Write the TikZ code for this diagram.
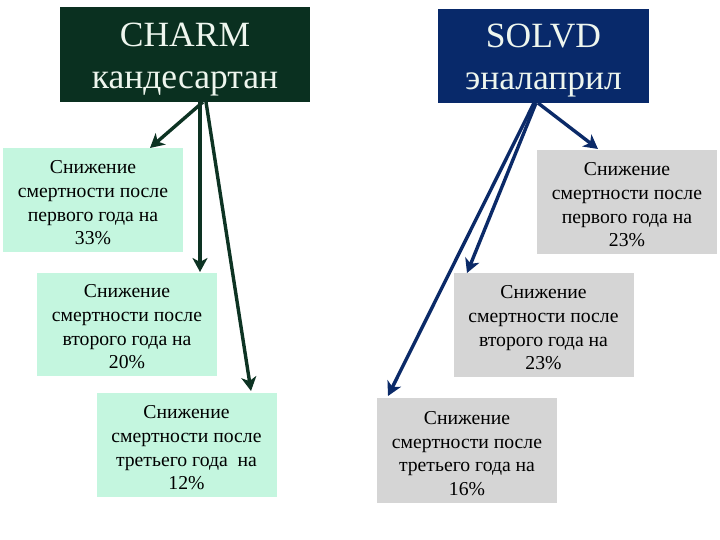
\documentclass[tikz,border=0pt]{standalone}
\usepackage{fontspec}
\setmainfont{Liberation Serif}
\usetikzlibrary{arrows.meta}
\definecolor{charmfill}{HTML}{0A3020}
\definecolor{solvdfill}{HTML}{08296A}
\definecolor{titletext}{HTML}{EEF6EE}
\definecolor{mint}{HTML}{C4F6DF}
\definecolor{greybox}{HTML}{D5D5D5}
\definecolor{greenarrow}{HTML}{0D3323}
\definecolor{bluearrow}{HTML}{0B2A68}
\tikzset{
  titlebox/.style={rectangle, inner sep=0pt},
  titletxt/.style={inner sep=0pt, align=center, text=titletext,
    font=\fontsize{35.5}{42}\selectfont},
  resbox/.style={rectangle, inner sep=0pt, minimum width=180pt, minimum height=103pt},
  restxt/.style={inner sep=0pt, align=center, text=black,
    font=\fontsize{19.7}{23.7}\selectfont},
  mintbox/.style={resbox, fill=mint},
  greyresbox/.style={resbox, fill=greybox},
  arrowline/.style={line width=3.4pt, -{Stealth[length=14pt,width=15pt,inset=4pt]}},
  garrow/.style={arrowline, draw=greenarrow},
  barrow/.style={arrowline, draw=bluearrow},
}
\begin{document}
\begin{tikzpicture}[x=1pt,y=-1pt]
\useasboundingbox[fill=white] (0,0) rectangle (720,540);
% title boxes
\node[titlebox, fill=charmfill, minimum width=250pt, minimum height=95pt] (charm) at (185,54.5) {};
\node[titletxt] (charmtxt) at ([yshift=-5pt]charm.center) {CHARM\\кандесартан};
\node[titlebox, fill=solvdfill, minimum width=211pt, minimum height=94pt] (solvd) at (543.5,56) {};
\node[titletxt] (solvdtxt) at ([yshift=-5pt]solvd.center) {SOLVD\\эналаприл};
% left boxes
\node[mintbox] (l1) at (93,200) {};
\node[restxt] at ([yshift=-3pt]l1.center) {Снижение\\смертности после\\первого года на\\33\%};
\node[mintbox] (l2) at (127,324) {};
\node[restxt] at ([yshift=-3pt]l2.center) {Снижение\\смертности после\\второго года на\\20\%};
\node[mintbox, minimum height=104pt] (l3) at (186.5,445) {};
\node[restxt] at ([yshift=-3pt]l3.center) {Снижение\\смертности после\\третьего года\ \ на\\12\%};
% right boxes
\node[greyresbox, minimum height=104pt] (r1) at (627,202) {};
\node[restxt] at ([yshift=-3pt]r1.center) {Снижение\\смертности после\\первого года на\\23\%};
\node[greyresbox, minimum height=104pt] (r2) at (543.5,325) {};
\node[restxt] at ([yshift=-3pt]r2.center) {Снижение\\смертности после\\второго года на\\23\%};
\node[greyresbox, minimum height=105pt] (r3) at (467,450.5) {};
\node[restxt] at ([yshift=-3pt]r3.center) {Снижение\\смертности после\\третьего года на\\16\%};
% connector end points
\coordinate (cs1) at (203,102);
\coordinate (cs2) at (200,102);
\coordinate (cs3) at (206,102);
\coordinate (ce1) at (150,148);
\coordinate (ce2) at (200,272);
\coordinate (ce3) at (251,391);
\coordinate (ss1) at (538,103);
\coordinate (ss2) at (536,103);
\coordinate (ss3) at (534,103);
\coordinate (se1) at (598,149);
\coordinate (se2) at (467,273);
\coordinate (se3) at (388,396);
\draw[garrow] (cs1) -- (ce1);
\draw[garrow] (cs2) -- (ce2);
\draw[garrow] (cs3) -- (ce3);
\draw[barrow] (ss1) -- (se1);
\draw[barrow] (ss2) -- (se2);
\draw[barrow] (ss3) -- (se3);
\end{tikzpicture}
\end{document}
